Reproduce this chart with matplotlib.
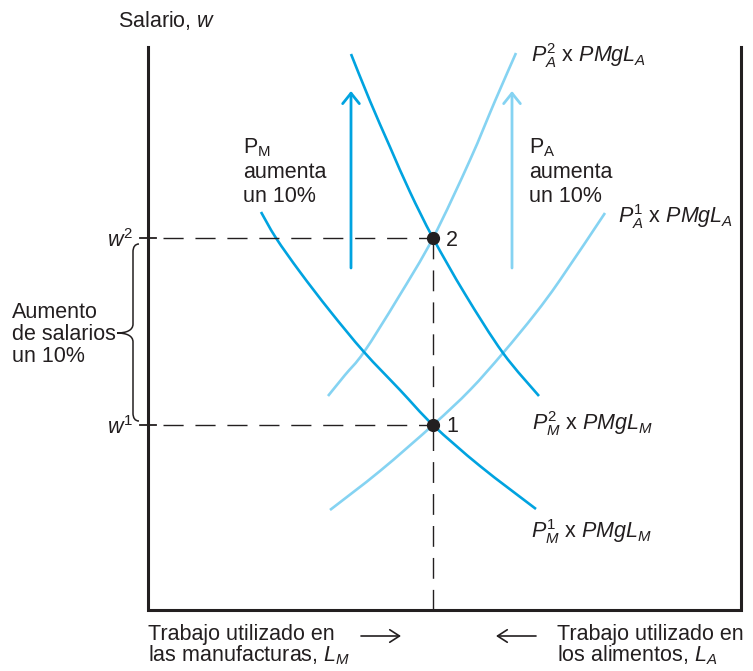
import matplotlib.pyplot as plt
from matplotlib.path import Path
from matplotlib.patches import PathPatch

plt.rcParams['font.family'] = ['Liberation Sans', 'DejaVu Sans']
plt.rcParams['mathtext.fontset'] = 'custom'
plt.rcParams['mathtext.rm'] = 'Liberation Sans'
plt.rcParams['mathtext.it'] = 'Liberation Sans:italic'
plt.rcParams['mathtext.bf'] = 'Liberation Sans:bold'

# curve points (pixel space, y grows downwards)
pm1_x = [261, 276, 300, 330, 364, 400, 433, 480, 536]
pm1_y = [212, 238, 272, 311, 352, 390, 425, 466, 509]
pm2_x = [351, 370, 390, 410, 433, 465, 503, 539]
pm2_y = [54, 101, 147, 192, 238, 294, 353, 396]
pa1_x = [330, 380, 433, 470, 503, 535, 560, 605]
pa1_y = [510, 471, 425, 390, 353, 314, 280, 213]
pa2_x = [328, 345, 364, 398, 433, 470, 495, 516]
pa2_y = [396, 375, 352, 298, 238, 160, 101, 53]

eq_x = [433, 433]
eq_y = [425, 238]
eq_labels = ['1', '2']
w_levels = [425, 238]
w_labels = [r'$w^{1}$', r'$w^{2}$']

x_left, x_right, y_top, y_bottom = 148, 741, 47, 610

dark = '#00a3e0'
light = '#85d3f2'
tc = '#231f20'
fs = 15.5


def smooth_curve(ax, xs, ys, color):
    # Catmull-Rom through the read points, drawn as cubic Bezier segments
    pts = list(zip(xs, ys))
    verts = [pts[0]]
    codes = [Path.MOVETO]
    for i in range(len(pts) - 1):
        p0 = pts[i - 1] if i > 0 else pts[i]
        p1 = pts[i]
        p2 = pts[i + 1]
        p3 = pts[i + 2] if i + 2 < len(pts) else pts[i + 1]
        c1 = (p1[0] + (p2[0] - p0[0]) / 6, p1[1] + (p2[1] - p0[1]) / 6)
        c2 = (p2[0] - (p3[0] - p1[0]) / 6, p2[1] - (p3[1] - p1[1]) / 6)
        verts += [c1, c2, p2]
        codes += [Path.CURVE4] * 3
    ax.add_patch(PathPatch(Path(verts, codes), fill=False, lw=1.9,
                           edgecolor=color, capstyle='butt'))


fig = plt.figure(figsize=(7.53, 6.71), dpi=100)
ax = fig.add_axes([0, 0, 1, 1])
ax.set_xlim(0, 753)
ax.set_ylim(671, 0)
ax.axis('off')

# frame
ax.plot([x_left, x_left, x_right, x_right], [y_top, y_bottom, y_bottom, y_top],
        color=tc, lw=2.2, solid_joinstyle='miter')

# dashed guides
for wy in w_levels:
    ax.plot([163, eq_x[0]], [wy, wy], color=tc, lw=1.0, dashes=(14.5, 8.5))
    ax.plot([140, 156], [wy, wy], color=tc, lw=1.3)
ax.plot([eq_x[0], eq_x[0]], [min(eq_y), y_bottom + 4], color=tc, lw=1.0,
        dashes=(15, 8))

# curves
smooth_curve(ax, pa1_x, pa1_y, light)
smooth_curve(ax, pa2_x, pa2_y, light)
smooth_curve(ax, pm1_x, pm1_y, dark)
smooth_curve(ax, pm2_x, pm2_y, dark)

# shift arrows
ax.annotate('', xy=(351, 91), xytext=(351, 268),
            arrowprops=dict(arrowstyle='->,head_length=0.75,head_width=0.6',
                            lw=2.0, color=dark, mutation_scale=10,
                            shrinkA=0, shrinkB=0))
ax.annotate('', xy=(512, 91), xytext=(512, 268),
            arrowprops=dict(arrowstyle='->,head_length=0.75,head_width=0.6',
                            lw=2.0, color=light, mutation_scale=10,
                            shrinkA=0, shrinkB=0))

# equilibrium points
ax.plot(eq_x, eq_y, 'o', color=tc, ms=8.5, zorder=5)
for x, y, s in zip(eq_x, eq_y, eq_labels):
    ax.text(x + 13, y + 2, s, fontsize=fs, va='center', ha='left', color=tc)

ax.text(118, 27, r'Salario, $w$', fontsize=fs, color=tc, va='baseline')
for wy, lab in zip(w_levels, w_labels):
    ax.text(107, wy + 9, lab, fontsize=fs, color=tc, va='baseline')

# curve labels
ax.text(531, 62, r'$P_A^{2}$ x $PMgL_A$', fontsize=fs, color=tc, va='baseline')
ax.text(618, 223, r'$P_A^{1}$ x $PMgL_A$', fontsize=fs, color=tc, va='baseline')
ax.text(532, 430, r'$P_M^{2}$ x $PMgL_M$', fontsize=fs, color=tc, va='baseline')
ax.text(531, 538, r'$P_M^{1}$ x $PMgL_M$', fontsize=fs, color=tc, va='baseline')

# shift notes
ax.text(243, 153, r'P$_\mathrm{M}$', fontsize=fs, color=tc, va='baseline')
ax.text(243, 178, 'aumenta', fontsize=fs, color=tc, va='baseline')
ax.text(243, 202, 'un 10%', fontsize=fs, color=tc, va='baseline')
ax.text(529, 153, r'P$_\mathrm{A}$', fontsize=fs, color=tc, va='baseline')
ax.text(529, 178, 'aumenta', fontsize=fs, color=tc, va='baseline')
ax.text(529, 202, 'un 10%', fontsize=fs, color=tc, va='baseline')

# brace
verts = [(139, 244), (135, 244), (133, 247), (133, 252),
         (133, 324),
         (133, 330), (127, 333), (117, 333),
         (127, 333), (133, 336), (133, 342),
         (133, 413),
         (133, 418), (135, 421), (139, 421)]
codes = [Path.MOVETO, Path.CURVE4, Path.CURVE4, Path.CURVE4,
         Path.LINETO,
         Path.CURVE4, Path.CURVE4, Path.CURVE4,
         Path.CURVE4, Path.CURVE4, Path.CURVE4,
         Path.LINETO,
         Path.CURVE4, Path.CURVE4, Path.CURVE4]
ax.add_patch(PathPatch(Path(verts, codes), fill=False, lw=1.1, edgecolor=tc))
ax.text(12, 318, 'Aumento', fontsize=fs, color=tc, va='baseline')
ax.text(12, 340, 'de salarios', fontsize=fs, color=tc, va='baseline')
ax.text(12, 362, 'un 10%', fontsize=fs, color=tc, va='baseline')

# bottom labels
ax.text(148, 640, 'Trabajo utilizado en', fontsize=fs, color=tc, va='baseline')
ax.text(148, 661, r'las manufacturas, $L_M$', fontsize=fs, color=tc, va='baseline')
ax.text(557, 640, 'Trabajo utilizado en', fontsize=fs, color=tc, va='baseline')
ax.text(557, 661, r'los alimentos, $L_A$', fontsize=fs, color=tc, va='baseline')
ax.annotate('', xy=(401, 636), xytext=(361, 636),
            arrowprops=dict(arrowstyle='->,head_length=0.7,head_width=0.45',
                            lw=1.2, color=tc, mutation_scale=10, shrinkA=0, shrinkB=0))
ax.annotate('', xy=(496, 636), xytext=(536, 636),
            arrowprops=dict(arrowstyle='->,head_length=0.7,head_width=0.45',
                            lw=1.2, color=tc, mutation_scale=10, shrinkA=0, shrinkB=0))

fig.savefig('out.png', dpi=100)
